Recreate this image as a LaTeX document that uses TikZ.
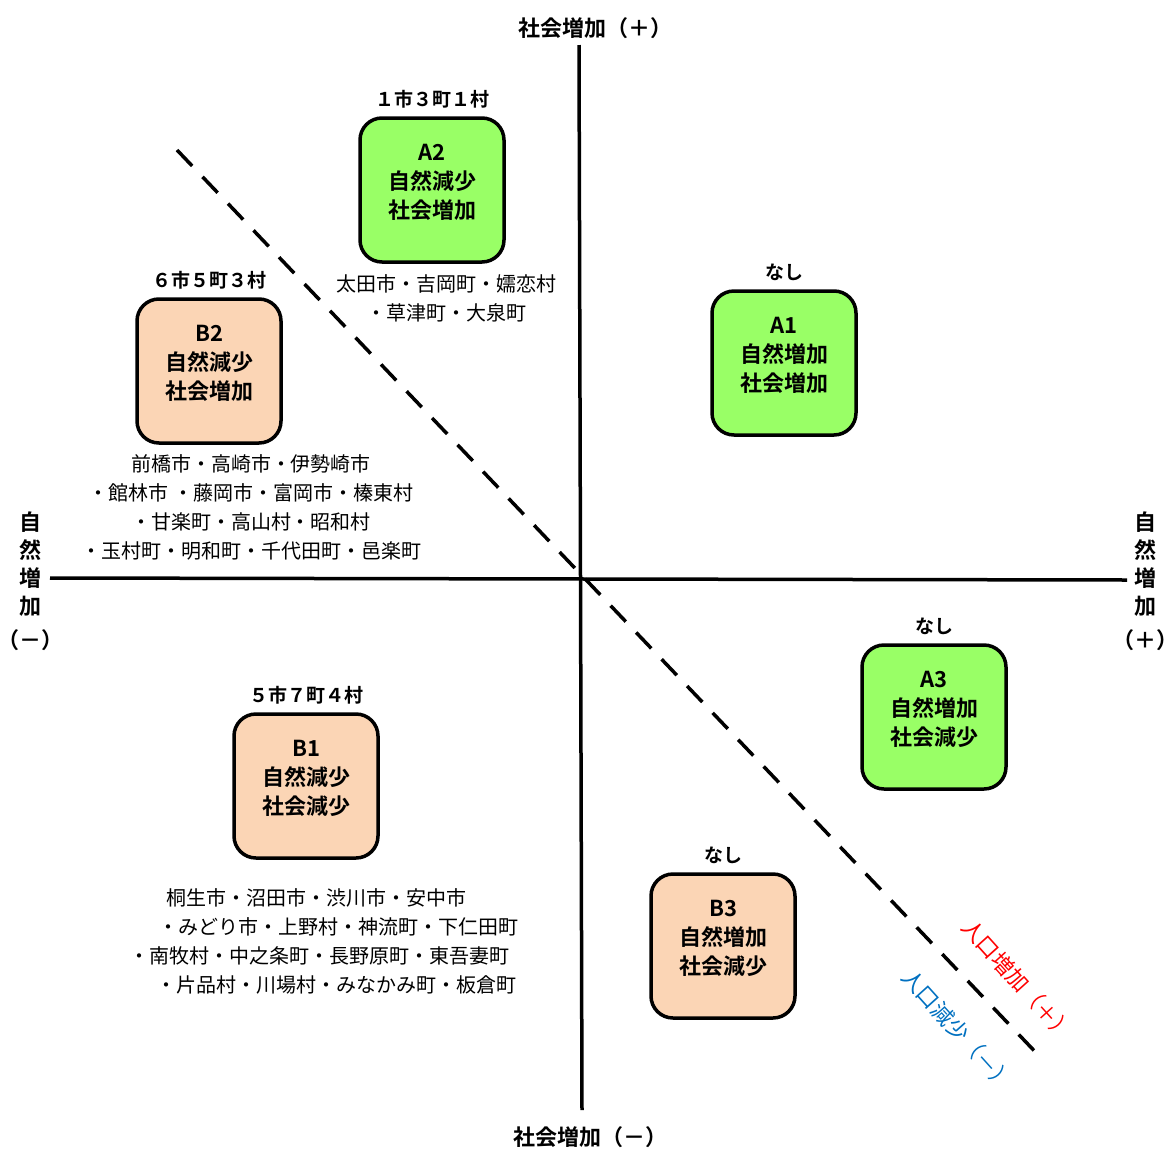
\documentclass[tikz,border=0pt]{standalone}
\usepackage{fontspec}
\setmainfont{Noto Sans CJK JP}[BoldFont={Noto Sans CJK JP Bold}]
\usetikzlibrary{positioning}
\tikzset{box/.style = {draw, line width=3.5pt, rounded corners=22pt,
                       minimum width=144pt, minimum height=144pt, align=center,
                       font=\bfseries\fontsize{22}{29}\selectfont}}
\tikzset{cnt/.style = {inner sep=0, font=\bfseries\fontsize{19}{24}\selectfont}}
\tikzset{towns/.style = {inner sep=0, align=center, font=\fontsize{20}{29}\selectfont}}
\tikzset{axlab/.style = {inner sep=0, align=center, font=\bfseries\fontsize{22}{28}\selectfont}}
\tikzset{poplab/.style = {rotate=-48, font=\fontsize{22}{24}\selectfont}}
\definecolor{mgreen}{HTML}{99FF66}
\definecolor{mpeach}{HTML}{FBD5B5}
\definecolor{mblue}{HTML}{0070C0}

\begin{document}
\begin{tikzpicture}[x=1pt, y=-1pt]
    \useasboundingbox (0, 0) rectangle (1173, 1149);

    % axes
    \coordinate (top) at (579, 45);
    \coordinate (bot) at (582, 1110);
    \coordinate (lft) at (50, 578);
    \coordinate (rgt) at (1127, 580);
    \draw [line width=3.5pt] (top) -- (bot);
    \draw [line width=3.5pt] (lft) -- (rgt);

    % population line
    \coordinate (d1) at (177, 150);
    \coordinate (d2) at (1043, 1060);
    \draw [line width=3.5pt, dash pattern=on 22pt off 15pt] (d1) -- (d2);

    \node [axlab] (sp) at (595, 28) {社会増加（＋）};
    \node [axlab] (sm) at (590, 1137) {社会増加（－）};
    \node [axlab] (nm) at (31, 581) {自\\然\\増\\加\\[6pt]（－）};
    \node [axlab] (np) at (1145, 581) {自\\然\\増\\加\\[6pt]（＋）};

    \node [poplab, red] (up) at (1018, 980) {人口増加（＋）};
    \node [poplab, mblue] (down) at (958, 1030) {人口減少（－）};

    % types
    \node [box, fill=mgreen] (a1) at (784, 363) {A1\\自然増加\\社会増加\\[-12pt]\mbox{}};
    \node [box, fill=mgreen] (a2) at (432, 190) {A2\\自然減少\\社会増加\\[-12pt]\mbox{}};
    \node [box, fill=mgreen] (a3) at (934, 717) {A3\\自然増加\\社会減少\\[-12pt]\mbox{}};
    \node [box, fill=mpeach] (b1) at (306, 786) {B1\\自然減少\\社会減少\\[-12pt]\mbox{}};
    \node [box, fill=mpeach] (b2) at (209, 371) {B2\\自然減少\\社会増加\\[-12pt]\mbox{}};
    \node [box, fill=mpeach] (b3) at (723, 946) {B3\\自然増加\\社会減少\\[-12pt]\mbox{}};

    \node [cnt, above=8pt of a1] (na1) {なし};
    \node [cnt, above=8pt of a2] (na2) {１市３町１村};
    \node [cnt, above=8pt of a3] (na3) {なし};
    \node [cnt, above=8pt of b1] (nb1) {５市７町４村};
    \node [cnt, above=8pt of b2] (nb2) {６市５町３村};
    \node [cnt, above=8pt of b3] (nb3) {なし};

    \node [towns] (ta2) at (446, 298) {太田市・吉岡町・嬬恋村\\・草津町・大泉町};
    \node [towns] (tb2) at (251, 507) {前橋市・高崎市・伊勢崎市\\・館林市 ・藤岡市・富岡市・榛東村\\・甘楽町・高山村・昭和村\\・玉村町・明和町・千代田町・邑楽町};
    \node [towns, align=left, anchor=west] (tb1) at (129, 941) {\hspace{37pt}桐生市・沼田市・渋川市・安中市\\\hspace{29pt}・みどり市・上野村・神流町・下仁田町\\・南牧村・中之条町・長野原町・東吾妻町\\\hspace{27pt}・片品村・川場村・みなかみ町・板倉町};
\end{tikzpicture}
\end{document}
